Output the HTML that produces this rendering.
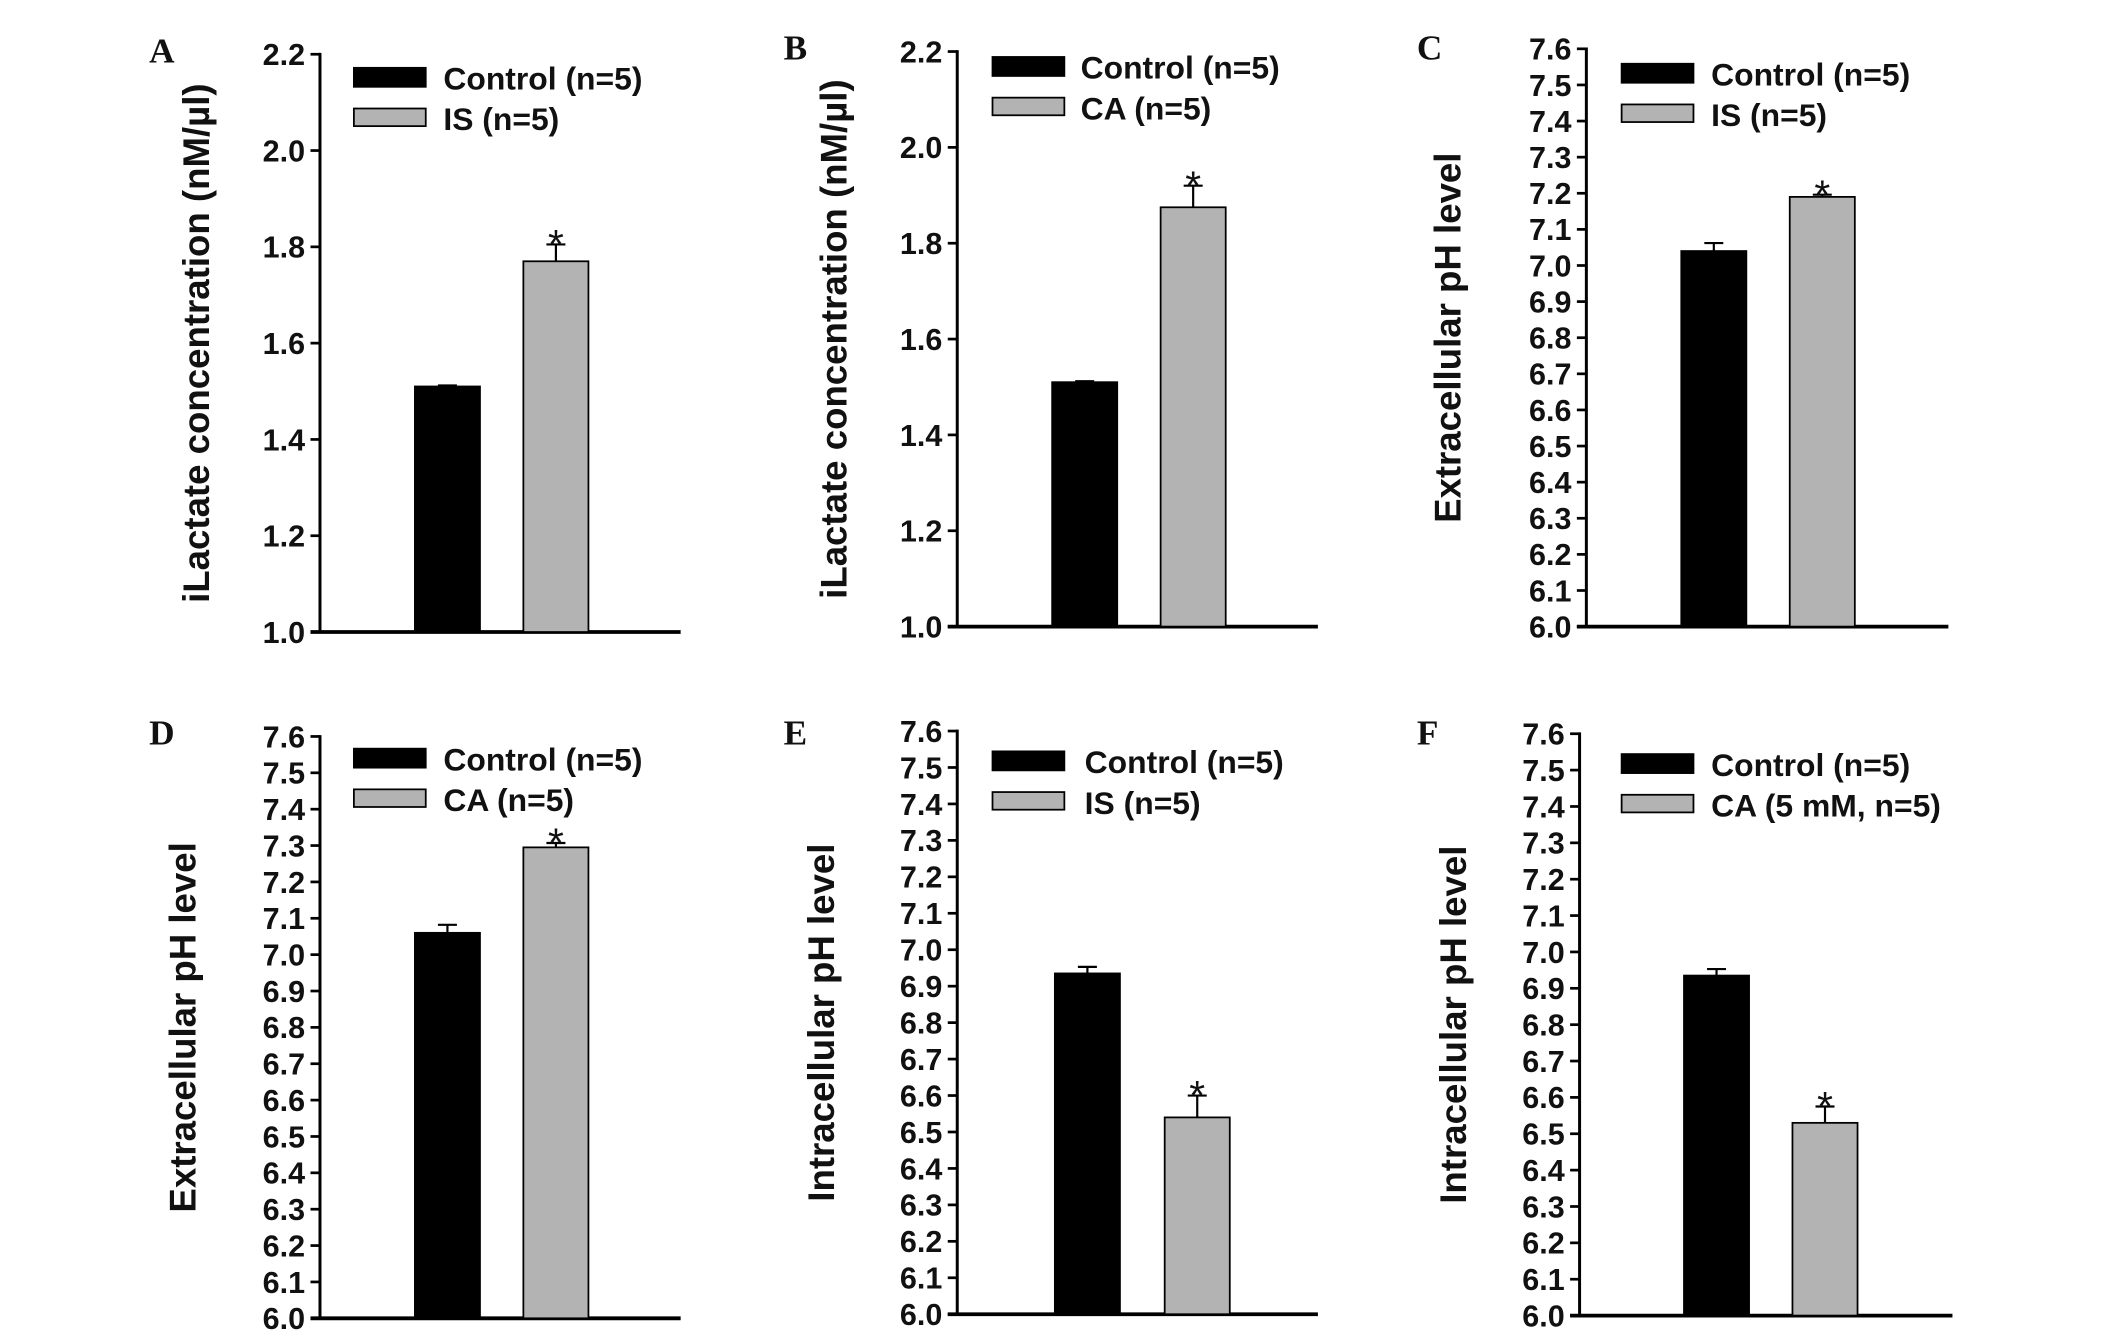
<!DOCTYPE html>
<html><head><meta charset="utf-8"><style>
html,body{margin:0;padding:0;background:#fff;width:2126px;height:1340px;overflow:hidden}
svg{display:block}
text{font-family:"Liberation Sans",Arial,sans-serif;font-weight:bold;fill:#111}
</style></head><body>
<svg id="fig" width="2126" height="1340" viewBox="0 0 1568 988" preserveAspectRatio="none" xmlns="http://www.w3.org/2000/svg"></svg>
<script>
const panelLetters=["A","B","C","D","E","F"];
const yTitles=["iLactate concentration (nM/µl)","iLactate concentration (nM/µl)","Extracellular pH level","Extracellular pH level","Intracellular pH level","Intracellular pH level"];
const groupLabels=[["Control (n=5)","IS (n=5)"],["Control (n=5)","CA (n=5)"],["Control (n=5)","IS (n=5)"],["Control (n=5)","CA (n=5)"],["Control (n=5)","IS (n=5)"],["Control (n=5)","CA (5 mM, n=5)"]];
const controlValues=[1.51,1.51,7.04,7.06,6.935,6.935];
const treatedValues=[1.77,1.875,7.19,7.295,6.54,6.53];
const controlErrors=[0.002,0.002,0.022,0.022,0.018,0.018];
const treatedErrors=[0.035,0.045,0.006,0.012,0.06,0.045];
const yMins=[1.0,1.0,6.0,6.0,6.0,6.0];
const yMaxs=[2.2,2.2,7.6,7.6,7.6,7.6];
const yStepsCount=[6,6,16,16,16,16];
const L=[
 {ax:236,y0:466,y1:40,xe:502,b1:306,b2:386,bw:48,lx:261,ly:50,tx:327,px:110,py:44,tt:145},
 {ax:706,y0:462,y1:38,xe:972,b1:776,b2:856,bw:48,lx:732,ly:42,tx:797,px:578,py:42,tt:615},
 {ax:1170,y0:462,y1:36,xe:1437,b1:1240,b2:1320,bw:48,lx:1196,ly:47,tx:1262,px:1045,py:42,tt:1068},
 {ax:236,y0:972,y1:543,xe:502,b1:306,b2:386,bw:48,lx:261,ly:552,tx:327,px:110,py:547,tt:135},
 {ax:706,y0:969,y1:539,xe:972,b1:778,b2:859,bw:48,lx:732,ly:554,tx:800,px:578,py:547,tt:606},
 {ax:1165,y0:970,y1:541,xe:1440,b1:1242,b2:1322,bw:48,lx:1196,ly:556,tx:1262,px:1045,py:547,tt:1072}];
const NS="http://www.w3.org/2000/svg",svg=document.getElementById('fig');
function mk(t,a,p){const e=document.createElementNS(NS,t);for(const k in a)e.setAttribute(k,a[k]);(p||svg).appendChild(e);return e;}
for(let i=0;i<6;i++){
 const c=L[i];
 const g=mk('g',{});
 
 
 const y=v=>c.y0-(v-yMins[i])/(yMaxs[i]-yMins[i])*(c.y0-c.y1);
 const pl=mk('text',{x:c.px,y:c.py+2,'font-size':26,style:'font-family:"Liberation Serif",serif'},g);pl.textContent=panelLetters[i];
 
 
 const al=mk('line',{x1:c.ax,y1:c.y1-1,x2:c.ax,y2:c.y0+1,stroke:'#000','stroke-width':2.2},g);
 
 
 const xl=mk('line',{x1:c.ax-7,y1:c.y0,x2:c.xe,y2:c.y0,stroke:'#000','stroke-width':2.8},g);
 
 
 const n=yStepsCount[i];
 for(let k=0;k<=n;k++){
  const v=yMins[i]+(yMaxs[i]-yMins[i])*k/n, yy=y(v);
  const tk=mk('line',{x1:c.ax-7,y1:yy,x2:c.ax,y2:yy,stroke:'#000','stroke-width':2},g);
  
  
  const tl=mk('text',{x:c.ax-11,y:yy+8,'text-anchor':'end','font-size':22.5},g);tl.textContent=v.toFixed(1);
  
  
 }
 const ty=(c.y0+c.y1)/2;
 const tt=mk('text',{x:c.tt,y:ty,'text-anchor':'middle','dominant-baseline':'central','font-size':27,transform:`rotate(-90 ${c.tt} ${ty})`},g);tt.textContent=yTitles[i];
 
 
 const vals=[controlValues[i],treatedValues[i]],errs=[controlErrors[i],treatedErrors[i]],xs=[c.b1,c.b2],fills=['#000','#b3b3b3'];
 for(let b=0;b<2;b++){
  const top=y(vals[b]),et=y(vals[b]+errs[b]),cx=xs[b]+c.bw/2;
  const el=mk('line',{x1:cx,y1:top,x2:cx,y2:et,stroke:'#000','stroke-width':1.6},g);
  
  
  const ec=mk('line',{x1:cx-7,y1:et,x2:cx+7,y2:et,stroke:'#000','stroke-width':1.6},g);
  
  
  const r=mk('rect',{x:xs[b],y:top,width:c.bw,height:c.y0-top,fill:fills[b],stroke:'#000','stroke-width':1.3},g);
  
  
  if(b){const s=mk('text',{x:cx,y:et+10,'text-anchor':'middle','font-size':30,style:'font-weight:normal'},g);s.textContent='*';
   
   }
  const lr=mk('rect',{x:c.lx,y:c.ly+b*30,width:53,height:b?13:14,fill:fills[b],stroke:'#000','stroke-width':1.3},g);
  
  
  const lt=mk('text',{x:c.tx,y:c.ly+b*30+16,'font-size':23.5},g);lt.textContent=groupLabels[i][b];
  
  
 }
}
</script>
</body></html>
